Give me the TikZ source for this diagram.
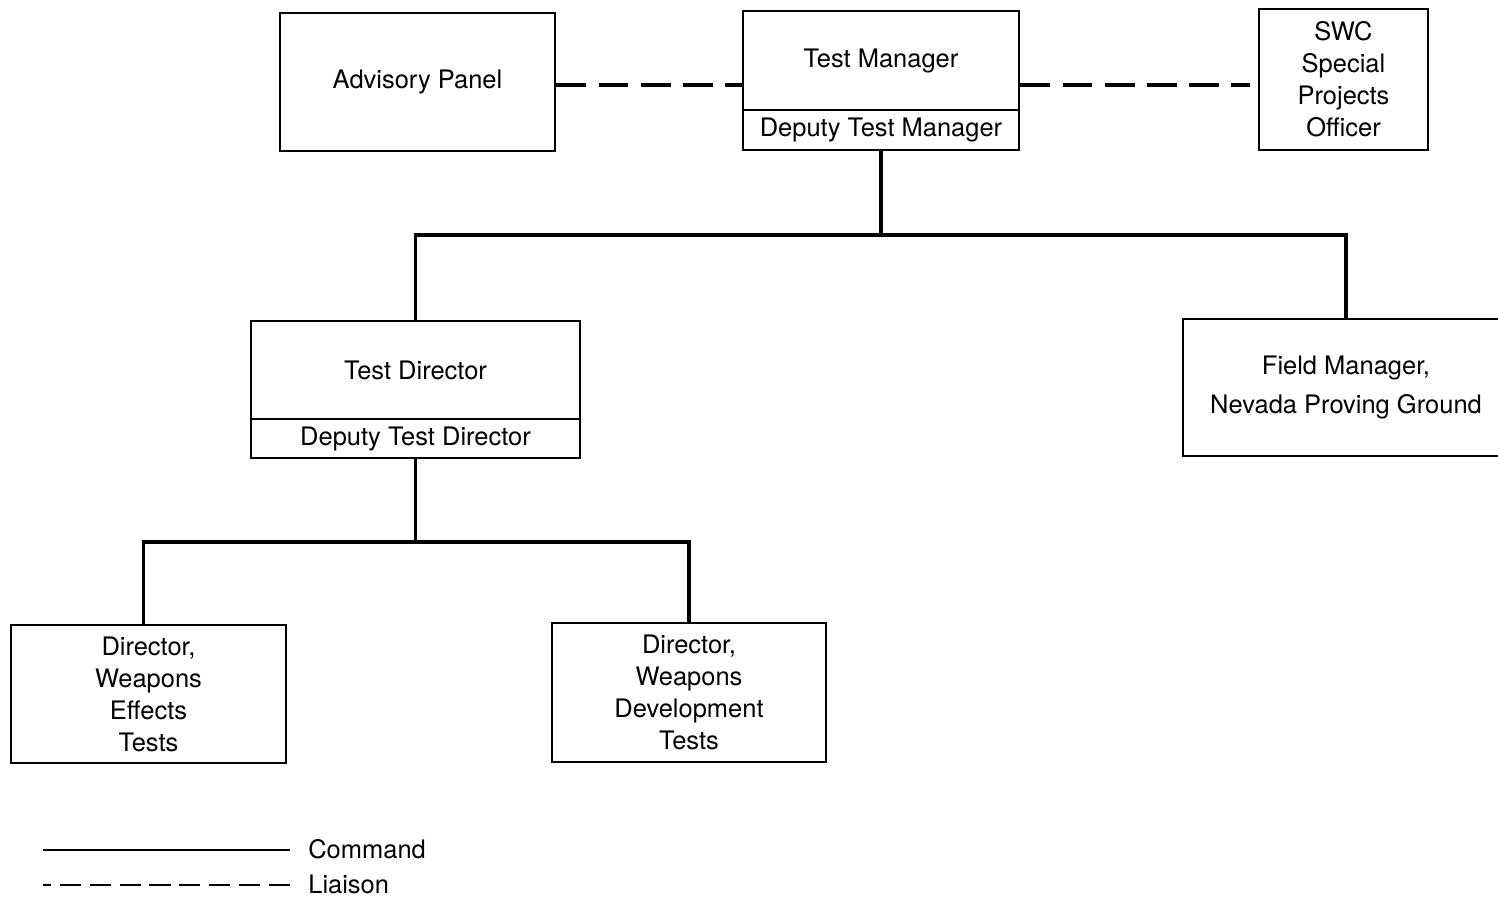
\documentclass[tikz,border=0pt]{standalone}
\usepackage{fontspec}
\setmainfont{TeX Gyre Heros}
\usetikzlibrary{calc}
\begin{document}
\begin{tikzpicture}[x=0.02cm,y=-0.02cm,
  box/.style={draw,line width=1.6pt,rectangle,inner sep=0pt,align=center,font=\fontsize{14.5}{18.2}\selectfont},
  cmd/.style={line width=2.2pt},
  liaison/.style={line width=2.2pt,dash pattern=on 17pt off 7pt},
  legtext/.style={anchor=west,inner sep=0pt,font=\fontsize{14.5}{18}\selectfont}]
\useasboundingbox (0,0) rectangle (1498,897);
% top row
\node[box,minimum width=5.5cm,minimum height=2.76cm] (adv) at (417.5,82) {Advisory Panel};
\node[box,minimum width=5.52cm,minimum height=1.98cm] (tm) at (881,60.5) {Test Manager};
\node[box,minimum width=5.52cm,minimum height=0.8cm] (dtm) at (881,130) {Deputy Test Manager};
\node[box,minimum width=3.38cm,minimum height=2.82cm] (swc) at (1343.5,79.5) {SWC\\Special\\Projects\\Officer};
% middle row
\node[box,minimum width=6.58cm,minimum height=1.96cm] (td) at (415.5,370) {Test Director};
\node[box,minimum width=6.58cm,minimum height=0.78cm] (dtd) at (415.5,438.5) {Deputy Test Director};
\node[box,minimum width=6.52cm,minimum height=2.74cm] (fm) at (1346,387.5) {Field Manager,\\[3.5pt]Nevada Proving Ground};
% bottom row
\node[box,minimum width=5.5cm,minimum height=2.76cm] (dwe) at (148.5,694) {Director,\\Weapons\\Effects\\Tests};
\node[box,minimum width=5.48cm,minimum height=2.78cm] (dwd) at (689,692.5) {Director,\\Weapons\\Development\\Tests};
% liaison
\coordinate (l0) at ($(adv.east)+(0,3)$);
\draw[liaison] (l0) -- (l0 -| tm.west);
\coordinate (l1) at (tm.east |- 0,85);
\coordinate (l2) at (1250,85);
\draw[liaison] (l1) -- (l2);
% command
\coordinate (j1) at (dtm.south |- 0,235);
\coordinate (j2) at (dtd.south |- 0,542);
\coordinate (d1) at ($(dwe.north)+(-5,0)$);
\draw[cmd] (dtm.south) -- (j1);
\draw[cmd] (td.north) -- (td.north |- j1) -- (fm.north |- j1) -- (fm.north);
\draw[cmd] (dtd.south) -- (j2);
\draw[cmd] (d1) -- (d1 |- j2) -- (dwd.north |- j2) -- (dwd.north);
% legend
\coordinate (a1) at (43,850); \coordinate (a2) at (290,850);
\coordinate (b1) at (43,885); \coordinate (b2) at (290,885);
\draw[line width=1.3pt] (a1) -- (a2);
\draw[line width=1.6pt,dash pattern=on 12pt off 5pt] (b2) -- (b1);
\node[legtext] (lc) at (308,849) {Command};
\node[legtext] (ll) at (308,884) {Liaison};
\end{tikzpicture}
\end{document}
